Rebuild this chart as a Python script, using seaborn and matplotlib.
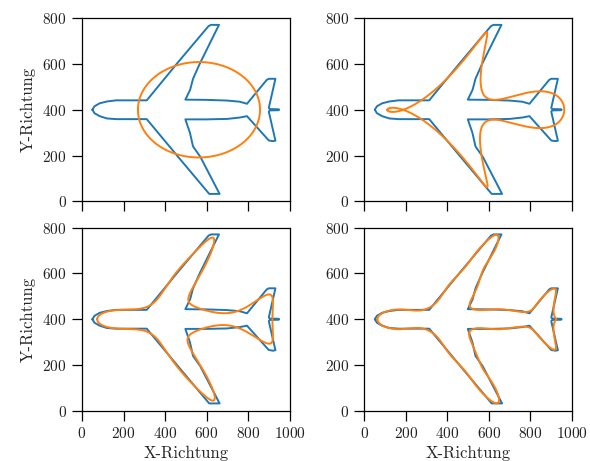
import numpy as np
import pandas as pd
import matplotlib
matplotlib.use("Agg")
import matplotlib.pyplot as plt
import seaborn as sns

# Airplane outline, closed path
outline_x = [50, 60, 85, 120, 165, 312, 460, 610, 622, 660, 567, 535, 521, 498,
             600, 700, 760, 795, 890, 900, 932, 900, 905, 948, 950, 948, 905, 900,
             932, 920, 900, 795, 760, 700, 600, 498, 520, 535, 570, 663, 625, 613,
             460, 312, 165, 120, 85, 60]
outline_y = [400, 415, 428, 436, 441, 441, 604, 765, 770, 770, 600, 535, 487, 444,
             443, 440, 435, 426, 530, 535, 535, 408, 403, 402, 400, 398, 397, 392,
             265, 263, 266, 372, 366, 360, 358, 358, 300, 240, 195, 33, 33, 33,
             198, 359, 359, 362, 372, 385]

# number of Fourier terms (+/- n) for each panel
terms = [1, 4, 10, 20]
x_ticks = [0, 200, 400, 600, 800, 1000]
y_ticks = [0, 200, 400, 600, 800]

blue = "#1f77b4"
orange = "#ff7f0e"


def fourier_approx(xs, ys, n, m=4096, out=1200):
    z = np.asarray(xs, float) + 1j * np.asarray(ys, float)
    z = np.append(z, z[0])
    s = np.concatenate([[0.0], np.cumsum(np.abs(np.diff(z)))])
    t = np.linspace(0, s[-1], m, endpoint=False)
    zs = np.interp(t, s, z.real) + 1j * np.interp(t, s, z.imag)
    c = np.fft.fft(zs) / m
    k = np.fft.fftfreq(m, 1.0 / m)
    tt = np.linspace(0, 1, out)
    zr = np.zeros(out, complex)
    for ci, ki in zip(c, k):
        if abs(ki) <= n:
            zr += ci * np.exp(2j * np.pi * ki * tt)
    return zr.real, zr.imag


sns.set_theme(style="ticks")
plt.rcParams["font.family"] = ["cmr10", "DejaVu Serif"]
plt.rcParams["axes.formatter.use_mathtext"] = True
plt.rcParams["font.size"] = 11

fig, axes = plt.subplots(2, 2, figsize=(5.9, 4.61), dpi=100, sharex=True)
fig.subplots_adjust(left=82 / 590, right=572 / 590, top=1 - 18 / 461,
                    bottom=1 - 411 / 461, wspace=0.361, hspace=0.142)

ox = outline_x + [outline_x[0]]
oy = outline_y + [outline_y[0]]
df_out = pd.DataFrame({"x": ox, "y": oy})

for ax, n in zip(axes.flat, terms):
    sns.lineplot(data=df_out, x="x", y="y", sort=False, estimator=None,
                 color=blue, lw=1.4, ax=ax)
    fx, fy = fourier_approx(outline_x, outline_y, n)
    fx = np.append(fx, fx[0])
    fy = np.append(fy, fy[0])
    sns.lineplot(x=fx, y=fy, sort=False, estimator=None, color=orange,
                 lw=1.4, ax=ax)
    ax.set_xlim(0, 1000)
    ax.set_ylim(0, 800)
    ax.set_xticks(x_ticks)
    ax.set_yticks(y_ticks)
    ax.set_xlabel("")
    ax.set_ylabel("")
    for sp in ax.spines.values():
        sp.set_visible(True)
        sp.set_color("black")
        sp.set_linewidth(0.9)
    ax.tick_params(direction="out", length=7, width=0.9, color="black",
                   labelcolor="#222222", pad=4, labelsize=11)

for ax in axes[1]:
    ax.set_xlabel("X-Richtung", fontsize=12, labelpad=3)
for ax in axes[:, 0]:
    ax.set_ylabel("Y-Richtung", fontsize=12, labelpad=5)

fig.savefig("out.png", dpi=100)
